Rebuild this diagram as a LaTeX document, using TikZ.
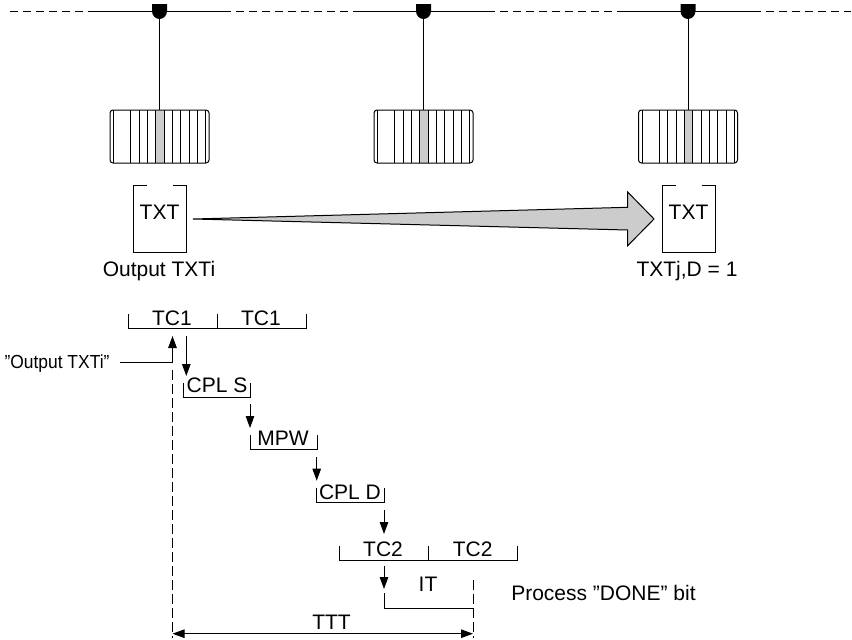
\documentclass[tikz,border=0pt]{standalone}
\usepackage{fontspec}
\setmainfont{Liberation Sans}
\usetikzlibrary{arrows.meta}
\tikzset{
  x=0.75pt,y=-0.75pt,
  ln/.style={line width=0.75pt,black},
  arr/.style={line width=0.75pt,black,-{Triangle[length=9pt,width=6.4pt]}},
  dblarr/.style={line width=0.75pt,black,{Triangle[length=9pt,width=6.4pt]}-{Triangle[length=9pt,width=6.4pt]}},
  busdash/.style={line width=0.75pt,black,dash pattern=on 6pt off 3.75pt},
  vdash/.style={line width=0.75pt,black,dash pattern=on 7.5pt off 3pt},
  lbl/.style={inner sep=0pt,anchor=base,font=\fontsize{15.75}{18}\selectfont,text=black},
  condensed/.style={lbl,xscale=.83,yscale=.9,transform shape},
  bigarrow/.style={line width=0.75pt,draw=black,fill=black!20},
}
\newcommand{\station}[2]{%
  \coordinate (#2bus) at (#1,11);
  \coordinate (#2top) at (#1,110);
  \draw[ln] (#2bus) -- (#2top);
  \fill[black] (#1-7.5,4) -- (#1+7.5,4) -- (#1+7.5,11)
     .. controls (#1+7.5,15.5) and (#1+4.1,19) .. (#1,19)
     .. controls (#1-4.1,19) and (#1-7.5,15.5) .. (#1-7.5,11) -- cycle;
  \fill[black!20] (#1-4,110.5) rectangle (#1+4.5,162.5);
  \foreach \d in {-46,-29,-20.5,-12,-4,4.5,13,21,29.5,38,46}{\draw[ln] (#1+\d,110) -- (#1+\d,163);}
  \draw[ln,rounded corners=2.25pt] (#1-49.5,110) rectangle (#1+49.5,163);
}
\newcommand{\register}[3]{% left x, right x, name
  \draw[ln] (#1+13.5,185) -- (#1,185) -- (#1,252) -- (#2,252) -- (#2,185) -- (#2-13.5,185);
  \node[lbl] (#3) at ({(#1+#2)/2},219) {TXT};
}
\begin{document}
\begin{tikzpicture}
\useasboundingbox (0,0) rectangle (852,639);
% bus
\coordinate (b0) at (10,11);  \coordinate (b1) at (95,11);
\coordinate (b2) at (223,11); \coordinate (b3) at (359,11);
\coordinate (b4) at (487,11); \coordinate (b5) at (623,11);
\coordinate (b6) at (753,11); \coordinate (b7) at (851,11);
\draw[busdash] (b0) -- (b1);
\draw[ln] (b1) -- (b2);
\draw[busdash] (b2) -- (b3);
\draw[ln] (b3) -- (b4);
\draw[busdash] (b4) -- (b5);
\draw[ln] (b5) -- (b6);
\draw[busdash] (b6) -- (b7);
\station{159.5}{a}
\station{423.5}{b}
\station{688}{c}
% registers
\register{133}{186}{txti}
\register{662}{715}{txtj}
\node[lbl] (outi) at (159,276) {Output TXTi};
\node[lbl] (outj) at (687,276) {TXTj,D = 1};
\draw[bigarrow] (193,219) -- (627.7,207.3) -- (627.7,192) -- (654,219) -- (627.7,245.7) -- (627.7,230) -- cycle;
% TC1
\draw[ln] (128,314) -- (128,328.7) -- (306,328.7) -- (306,314);
\draw[ln] (217,314) -- (217,328.7);
\node[lbl] (tc1a) at (172,325) {TC1};
\node[lbl] (tc1b) at (261,325) {TC1};
% output trigger
\node[condensed] (quote) at (57,368) {"Output TXTi"};
\coordinate (trigstart) at (120,362.7);
\coordinate (trigcorner) at (172.5,362.7);
\coordinate (trigtip) at (172.5,336);
\draw[ln] (trigstart) -- (trigcorner);
\draw[arr] (trigcorner) -- (trigtip);
% CPL S
\coordinate (a1s) at (186.3,336); \coordinate (a1e) at (186.3,376);
\draw[arr] (a1s) -- (a1e);
\draw[ln] (183.7,383) -- (183.7,397) -- (250,397) -- (250,383);
\node[lbl] (cpls) at (217,392.7) {CPL S};
% MPW
\coordinate (a2s) at (250,404); \coordinate (a2e) at (250,428);
\draw[arr] (a2s) -- (a2e);
\draw[ln] (250,435) -- (250,449.7) -- (317,449.7) -- (317,435);
\node[lbl] (mpw) at (283,445.7) {MPW};
% CPL D
\coordinate (a3s) at (316.7,457); \coordinate (a3e) at (316.7,480.7);
\draw[arr] (a3s) -- (a3e);
\draw[ln] (316.7,488) -- (316.7,502.7) -- (384,502.7) -- (384,488);
\node[lbl] (cpld) at (350,499) {CPL D};
% TC2
\coordinate (a4s) at (384,510); \coordinate (a4e) at (384,534);
\draw[arr] (a4s) -- (a4e);
\draw[ln] (339.3,546) -- (339.3,560.7) -- (517.3,560.7) -- (517.3,546);
\draw[ln] (428,546) -- (428,560.7);
\node[lbl] (tc2a) at (383,556.7) {TC2};
\node[lbl] (tc2b) at (472.7,556.7) {TC2};
% IT
\coordinate (a5s) at (384,566); \coordinate (a5e) at (384,589);
\draw[arr] (a5s) -- (a5e);
\coordinate (itl) at (384,593); \coordinate (itbl) at (384,608); \coordinate (itbr) at (473,608);
\draw[ln] (itl) -- (itbl) -- (itbr);
\node[lbl] (it) at (428,591) {IT};
\node[lbl,anchor=base west] (done) at (511,600) {Process "DONE" bit};
% TTT
\coordinate (ttop) at (172.5,370); \coordinate (tbot) at (172.5,638);
\coordinate (utop) at (473,580); \coordinate (ubot) at (473,638);
\draw[vdash] (ttop) -- (tbot);
\draw[vdash] (utop) -- (ubot);
\coordinate (tl) at (172.5,633.7); \coordinate (tr) at (473,633.7);
\draw[dblarr] (tl) -- (tr);
\node[lbl] (ttt) at (331.5,629) {TTT};
\end{tikzpicture}
\end{document}
